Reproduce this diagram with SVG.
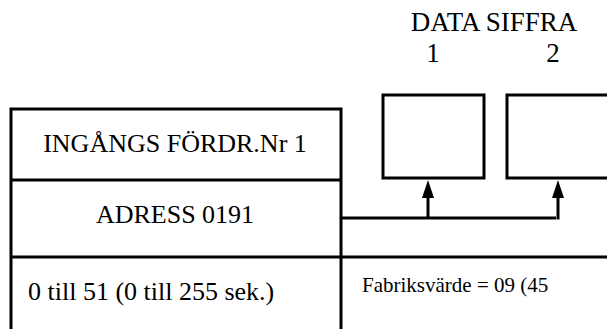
<svg xmlns="http://www.w3.org/2000/svg" width="607" height="329" viewBox="0 0 607 329">
<defs>
<style>
.ln{stroke:#000;stroke-width:3;fill:none}
.t{font-family:"Liberation Serif","Times New Roman",serif;fill:#000}
.big{font-size:26px}
.hd{font-size:27px}
.sm{font-size:21px}
</style>
</defs>
<rect width="607" height="329" fill="#fff"/>
<g id="header">
<text class="t hd" x="494" y="31" text-anchor="middle">DATA SIFFRA</text>
<text class="t hd" x="433" y="62" text-anchor="middle">1</text>
<text class="t hd" x="553" y="62" text-anchor="middle">2</text>
</g>
<g id="main-box">
<path class="ln" d="M11,329 V109 H341 V329"/>
<path class="ln" d="M11,180 H341"/>
<text class="t big" x="175" y="152" text-anchor="middle">INGÅNGS FÖRDR.Nr 1</text>
<text class="t big" x="175" y="223" text-anchor="middle">ADRESS 0191</text>
<text class="t big" x="28" y="300">0 till 51 (0 till 255 sek.)</text>
</g>
<g id="row-line">
<path class="ln" d="M11,257 H607"/>
<text class="t sm" x="362" y="292">Fabriksvärde = 09 (45</text>
</g>
<g id="digit1">
<rect class="ln" x="383" y="95" width="101" height="83"/>
</g>
<g id="digit2">
<path class="ln" d="M607,95 H507 V178 H607"/>
</g>
<g id="connectors">
<path class="ln" d="M341,218 H556"/>
<path class="ln" d="M428,218 V196"/>
<path d="M422,198 L428,180 L434,198 Z" fill="#000"/>
<path class="ln" d="M558,219.5 V196"/>
<path d="M552,198 L558,180 L564,198 Z" fill="#000"/>
</g>
</svg>
